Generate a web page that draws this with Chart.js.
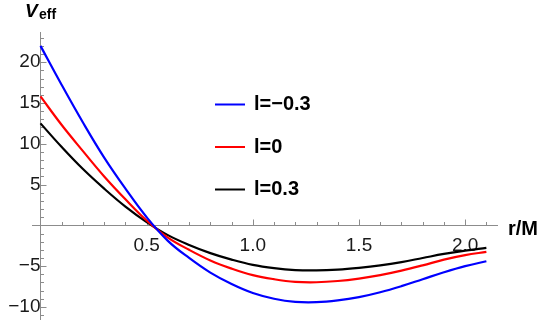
<!DOCTYPE html>
<html lang="en">
<head>
<meta charset="UTF-8">
<title>Effective potential</title>
<script src="https://cdn.jsdelivr.net/npm/chart.js"></script>
<style>
  html, body { margin: 0; padding: 0; background: #fff; }
</style>
</head>
<body>
<canvas id="veffChart" width="540" height="320"></canvas>
<script>
// r/M sample points and V_eff
const rValues = [0, 0.1, 0.2, 0.3, 0.4, 0.5, 0.6, 0.7, 0.8, 0.9, 1.0,
                 1.1, 1.2, 1.3, 1.4, 1.5, 1.6, 1.7, 1.8, 1.9, 2.0, 2.1];
const vMinus = [22.0, 17.2, 12.6, 8.3, 4.5, 1.0, -1.9, -4.0, -5.8, -7.2, -8.3,
                -9.0, -9.38, -9.42, -9.2, -8.8, -8.2, -7.45, -6.6, -5.75, -5.0, -4.4];
const vZero = [15.8, 12.3, 9.1, 6.0, 3.2, 0.6, -1.5, -3.0, -4.3, -5.3, -6.1,
               -6.6, -6.92, -6.97, -6.82, -6.52, -6.1, -5.55, -4.9, -4.2, -3.65, -3.25];
const vPlus = [12.5, 9.6, 6.9, 4.5, 2.3, 0.4, -1.2, -2.4, -3.4, -4.2, -4.85,
               -5.25, -5.48, -5.52, -5.42, -5.2, -4.9, -4.5, -4.0, -3.5, -3.1, -2.75];
const seriesLabels = ['l=\u22120.3', 'l=0', 'l=0.3'];
const seriesColors = ['#0000ff', '#ff0000', '#000000'];

const xTicks = [0.5, 1.0, 1.5, 2.0];
const yTicks = [-10, -5, 5, 10, 15, 20];

const axisColor = '#8c8c8c';
const fontFamily = '"Liberation Sans", Arial, sans-serif';

const xMinor = [];
for (let i = 1; i <= 21; i++) xMinor.push(i / 10);
const yMinor = [];
for (let i = -11; i <= 23; i++) if (i !== 0) yMinor.push(i);

function toPoints(vals) {
    return rValues.map((r, i) => ({x: r, y: vals[i]}));
}

// small ticks pointing into the plot, like Mathematica axes
const axisTicks = {
    id: 'axisTicks',
    beforeDatasetsDraw(chart) {
        const {ctx, scales: {x, y}} = chart;
        const x0 = Math.round(x.getPixelForValue(0)) + 0.5;
        const y0 = Math.round(y.getPixelForValue(0)) + 0.5;
        ctx.save();
        ctx.strokeStyle = axisColor;
        ctx.lineWidth = 1;
        ctx.beginPath();
        xMinor.forEach(v => {
            const px = Math.round(x.getPixelForValue(v)) + 0.5;
            const len = xTicks.includes(v) ? 6 : 3.5;
            ctx.moveTo(px, y0);
            ctx.lineTo(px, y0 - len);
        });
        yMinor.forEach(v => {
            const py = Math.round(y.getPixelForValue(v)) + 0.5;
            const len = yTicks.includes(v) ? 6 : 3.5;
            ctx.moveTo(x0, py);
            ctx.lineTo(x0 + len, py);
        });
        ctx.stroke();
        ctx.restore();
    }
};

const labelsAndLegend = {
    id: 'labelsAndLegend',
    afterDatasetsDraw(chart) {
        const {ctx} = chart;
        ctx.save();
        ctx.fillStyle = '#000';
        ctx.textBaseline = 'alphabetic';
        ctx.textAlign = 'left';
        ctx.font = 'italic bold 19px ' + fontFamily;
        ctx.fillText('V', 25, 17);
        ctx.font = 'bold 14px ' + fontFamily;
        ctx.fillText('eff', 39, 19);
        ctx.font = 'bold 20px ' + fontFamily;
        ctx.fillText('r/M', 508, 235);

        // legend inside the plot
        ctx.textBaseline = 'middle';
        ctx.font = 'bold 20px ' + fontFamily;
        chart.data.datasets.forEach((ds, i) => {
            const ly = 104.5 + i * 42.5;
            ctx.strokeStyle = ds.borderColor;
            ctx.lineWidth = 2;
            ctx.beginPath();
            ctx.moveTo(215, ly);
            ctx.lineTo(245, ly);
            ctx.stroke();
            ctx.fillStyle = '#000';
            ctx.fillText(ds.label, 254, ly);
        });
        ctx.restore();
    }
};

const ctx = document.getElementById('veffChart').getContext('2d');
Chart.defaults.font.family = fontFamily;

const veffChart = new Chart(ctx, {
    type: 'line',
    data: {
        datasets: [vMinus, vZero, vPlus].map((vals, i) => ({
            label: seriesLabels[i],
            data: toPoints(vals),
            borderColor: seriesColors[i],
            backgroundColor: seriesColors[i],
            borderWidth: 2.2,
            pointRadius: 0,
            tension: 0.4,
            fill: false
        }))
    },
    options: {
        responsive: false,
        animation: false,
        devicePixelRatio: 1,
        layout: {padding: {left: 32, right: 43, top: 32, bottom: 0}},
        plugins: {
            legend: {display: false},
            tooltip: {enabled: false}
        },
        scales: {
            x: {
                type: 'linear',
                min: -0.04,
                max: 2.15,
                position: {y: 0},
                afterFit: s => {
                    s.height = 0;
                    s.paddingLeft = s.paddingRight = s.paddingTop = s.paddingBottom = 0;
                },
                afterBuildTicks: s => { s.ticks = xTicks.map(v => ({value: v})); },
                grid: {display: false, drawTicks: false},
                border: {display: true, color: axisColor, width: 1},
                ticks: {
                    padding: 9,
                    color: '#1a1a1a',
                    font: {size: 19},
                    maxRotation: 0,
                    autoSkip: false,
                    callback: v => v.toFixed(1)
                }
            },
            y: {
                type: 'linear',
                min: -11.6,
                max: 23.7,
                position: {x: 0},
                afterFit: s => {
                    s.width = 0;
                    s.paddingLeft = s.paddingRight = s.paddingTop = s.paddingBottom = 0;
                },
                afterBuildTicks: s => { s.ticks = yTicks.map(v => ({value: v})); },
                grid: {display: false, drawTicks: false},
                border: {display: true, color: axisColor, width: 1},
                ticks: {
                    padding: 9,
                    color: '#1a1a1a',
                    font: {size: 19},
                    autoSkip: false,
                    callback: v => (v < 0 ? '\u2212' + Math.abs(v) : String(v))
                }
            }
        }
    },
    plugins: [axisTicks, labelsAndLegend]
});
</script>
</body>
</html>
